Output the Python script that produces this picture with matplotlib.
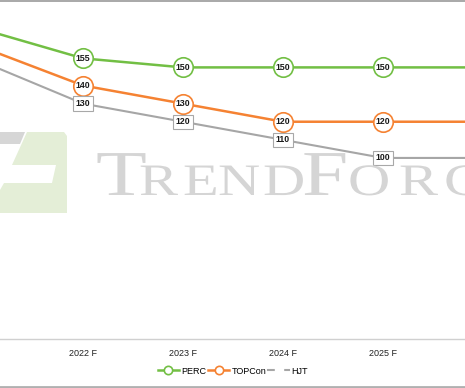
import matplotlib
matplotlib.use("Agg")
import matplotlib.pyplot as plt
from matplotlib.patches import Polygon, PathPatch
from matplotlib.lines import Line2D
from matplotlib.textpath import TextPath
from matplotlib.font_manager import FontProperties
from matplotlib.transforms import Affine2D

# === data ===
years = ["2021", "2022 F", "2023 F", "2024 F", "2025 F", "2026 F"]
perc = [171, 155, 150, 150, 150, 150]
topcon = [161, 140, 130, 120, 120, 120]
hjt = [153, 130, 120, 110, 100, 100]

GREEN = "#72bf44"
ORANGE = "#f58232"
GRAY = "#a6a6a6"

plt.rcParams["font.family"] = ["Liberation Sans", "DejaVu Sans"]

W, H = 465, 388
fig = plt.figure(figsize=(W / 100, H / 100), dpi=100)
fig.patch.set_facecolor("white")


def fx(px):
    return px / W


def fy(py):
    return 1 - py / H


# === watermark (TrendForce logo) ===
gray_band = [(0, 132), (25, 132), (20, 144), (0, 144)]
green_shape = [(27, 132), (64, 132), (67, 136), (67, 213), (0, 213), (0, 190),
               (4, 183), (52, 183), (56, 165), (12, 165)]
fig.patches.append(Polygon([(fx(a), fy(b)) for a, b in gray_band], closed=True,
                           transform=fig.transFigure, fc="#d6d6d6", ec="none", zorder=0))
fig.patches.append(Polygon([(fx(a), fy(b)) for a, b in green_shape], closed=True,
                           transform=fig.transFigure, fc="#e4eed7", ec="none", zorder=0))

serif = FontProperties(family="Liberation Serif")
letters = [("T", 96, 64), ("R", 139, 45), ("E", 183, 45), ("N", 218, 45), ("D", 263, 45),
           ("F", 302, 64), ("O", 348, 45), ("R", 399, 45), ("C", 444, 45)]
for ch, px, size in letters:
    tp = TextPath((0, 0), ch, size=size, prop=serif)
    tr = Affine2D().scale(1.3 / W, 1 / H).translate(fx(px), fy(195)) + fig.transFigure
    fig.patches.append(PathPatch(tp, transform=tr, fc="#d5d5d5", ec="none", zorder=0))

# === chart ===
ax = fig.add_axes([0, fy(339), 1, 1 - fy(339) - 0.002])
ax.set_facecolor("none")
x = list(range(len(years)))

ax.plot(x, perc, color=GREEN, lw=1.8, marker="o", ms=14, mfc="white", mec=GREEN, mew=1.2, zorder=3)
ax.plot(x, topcon, color=ORANGE, lw=1.8, marker="o", ms=14, mfc="white", mec=ORANGE, mew=1.2, zorder=3)
ax.plot(x, hjt, color=GRAY, lw=1.5, zorder=2)

xmin, xmax = 0.17, 4.82
lbl = dict(ha="center", va="center", fontsize=6.3, fontweight="bold", color="#1a1a1a", zorder=4)
# labels only for points inside the visible window
for xi, v in zip(x, perc):
    if xmin < xi < xmax:
        ax.text(xi, v, str(v), **lbl)
for xi, v in zip(x, topcon):
    if xmin < xi < xmax:
        ax.text(xi, v, str(v), **lbl)
for xi, v in zip(x, hjt):
    if xmin < xi < xmax:
        ax.text(xi, v, str(v), **lbl,
                bbox=dict(boxstyle="square,pad=0.3", fc="white", ec="#a8a8a8", lw=0.8))

ax.set_xticks(x)
ax.set_xticklabels(years, fontsize=6.5, color="#222222")
ax.set_xlim(xmin, xmax)
ax.set_ylim(0, 186.8)
ax.tick_params(axis="x", length=0, pad=7)
ax.set_yticks([])
for s in ["top", "left", "right"]:
    ax.spines[s].set_visible(False)
ax.spines["bottom"].set_color("#d0d0d0")
ax.spines["bottom"].set_linewidth(1)

handles = [
    Line2D([], [], color=GREEN, lw=1.8, marker="o", ms=6, mfc="white", mec=GREEN, mew=1.2),
    Line2D([], [], color=ORANGE, lw=1.8, marker="o", ms=6, mfc="white", mec=ORANGE, mew=1.2),
    Line2D([], [], color=GRAY, lw=1.5, marker="s", ms=6, mfc="white", mec="white"),
]
fig.legend(handles, ["PERC", "TOPCon", "HJT"], loc="center", bbox_to_anchor=(fx(233), fy(371)),
           ncol=3, frameon=False, fontsize=6.5, handlelength=2.3, handletextpad=0.3,
           columnspacing=0.2)

# frame lines
fig.add_artist(Line2D([0, 1], [fy(0.5), fy(0.5)], transform=fig.transFigure, color="#9a9a9a", lw=1.2))
fig.add_artist(Line2D([0, 1], [fy(386.5), fy(386.5)], transform=fig.transFigure, color="#b0b0b0", lw=2))

fig.savefig("out.png", dpi=100, facecolor="white")
